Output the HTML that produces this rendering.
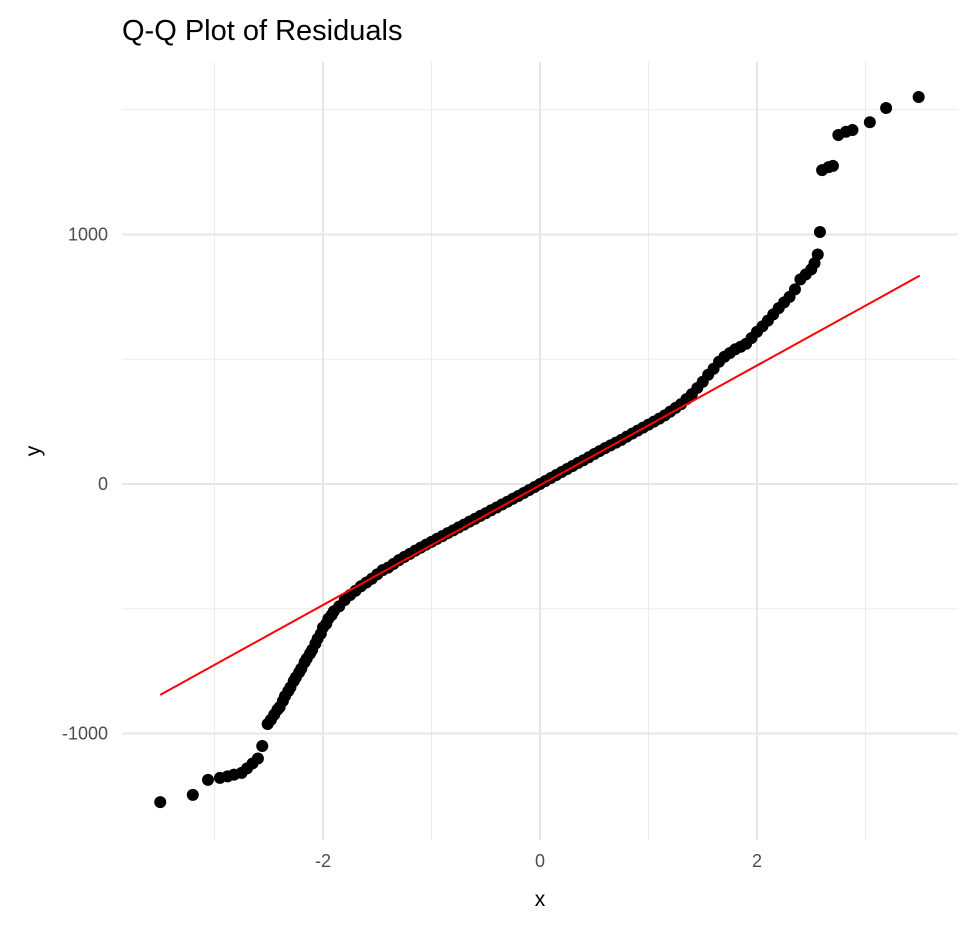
<!DOCTYPE html>
<html><head><meta charset="utf-8"><style>
body{margin:0;background:#fff;}
svg text{font-family:"Liberation Sans",Arial,sans-serif;}
</style></head><body>
<svg id="chart" width="972" height="922">
<text x="122" y="40" font-size="29" fill="#000">Q-Q Plot of Residuals</text>
<g id="grid"></g><g id="refline"></g><g id="pts"></g><g id="axes"></g>
<text x="540" y="906" font-size="21" text-anchor="middle" fill="#000">x</text>
<text x="40" y="451" font-size="21" text-anchor="middle" fill="#000" transform="rotate(-90 40 451)">y</text>
</svg>
<script>
const xVals=[-3.50,-3.20,-3.06,-2.95,-2.88,-2.82,-2.75,-2.70,-2.65,-2.60,-2.56,-2.51,-2.48,-2.45,-2.42,-2.40,-2.37,-2.35,-2.32,-2.30,-2.27,-2.25,-2.22,-2.20,-2.17,-2.15,-2.12,-2.10,-2.07,-2.05,-2.02,-2.00,-1.97,-1.95,-1.92,-1.90,-1.85,-1.80,-1.75,-1.70,-1.65,-1.60,-1.55,-1.50,-1.45,-1.40,
-1.35,-1.30,-1.25,-1.20,-1.15,-1.10,-1.05,-1.00,-0.95,-0.90,-0.85,-0.80,-0.75,-0.70,-0.65,-0.60,-0.55,-0.50,-0.45,-0.40,-0.35,-0.30,-0.25,-0.20,-0.15,-0.10,-0.05,0,0.05,0.10,0.15,0.20,0.25,0.30,0.35,0.40,0.45,0.50,0.55,0.60,0.65,0.70,0.75,0.80,0.85,0.90,0.95,1.00,1.05,1.10,1.15,1.20,1.25,1.30,
1.35,1.4,1.45,1.5,1.55,1.6,1.65,1.7,1.75,1.8,1.85,1.9,1.95,2.0,2.05,2.1,2.15,2.2,2.25,2.3,2.35,2.4,2.45,2.5,2.53,2.56,2.58,2.60,2.66,2.70,2.75,2.82,2.88,3.04,3.19,3.49];
const yVals=[-1275,-1246,-1186,-1178,-1172,-1165,-1158,-1140,-1120,-1100,-1050,-962,-945,-925,-905,-895,-870,-850,-830,-815,-790,-775,-755,-740,-715,-700,-680,-665,-640,-620,-600,-575,-560,-540,-525,-510,-490,-465,-445,-428,-410,-395,-380,-362,-345,-335,
-320,-305,-292,-280,-267,-255,-243,-232,-220,-209,-197,-186,-174,-163,-151,-140,-128,-117,-105,-94,-82,-71,-59,-48,-36,-24,-12,0,12,24,36,48,60,72,84,95,107,120,132,144,155,166,177,190,202,214,226,238,250,262,275,290,305,320,
340,360,385,410,438,462,490,510,525,540,550,562,585,610,632,655,680,705,728,750,780,820,840,860,885,920,1010,1258,1270,1275,1399,1412,1419,1450,1507,1551];
const xTicks=[-2,0,2], yTicks=[-1000,0,1000];
const lineX=[-3.5,3.5], lineY=[-845,835];
const sx=v=>540+v*108.5, sy=v=>484-v*0.2495;
const NS="http://www.w3.org/2000/svg";
function mk(t,p,a){const e=document.createElementNS(NS,t);for(const k in a)e.setAttribute(k,a[k]);p.appendChild(e);return e;}
const g=document.getElementById('grid');
[-3,-1,1,3].forEach(v=>{const l=mk('line',g,{x1:sx(v),x2:sx(v),y1:62,y2:840,stroke:'#ebebeb','stroke-width':1});

});
[-500,500,1500].forEach(v=>{const l=mk('line',g,{x1:122,x2:958,y1:sy(v),y2:sy(v),stroke:'#ebebeb','stroke-width':1});

});
const ax=document.getElementById('axes');
xTicks.forEach(v=>{const l=mk('line',g,{x1:sx(v),x2:sx(v),y1:62,y2:840,stroke:'#e6e6e6','stroke-width':2});


const t=mk('text',ax,{x:sx(v),y:867,'font-size':18,fill:'#4d4d4d','text-anchor':'middle'});t.textContent=v;

});
yTicks.forEach(v=>{const l=mk('line',g,{x1:122,x2:958,y1:sy(v),y2:sy(v),stroke:'#e6e6e6','stroke-width':2});


const t=mk('text',ax,{x:108,y:sy(v)+6,'font-size':18,fill:'#4d4d4d','text-anchor':'end'});t.textContent=v;

});
const pg=document.getElementById('pts');
xVals.forEach((v,i)=>{const c=mk('circle',pg,{cx:sx(v),cy:sy(yVals[i]),r:6,fill:'#000'});

});
const rl=mk('line',document.getElementById('refline'),{x1:sx(lineX[0]),y1:sy(lineY[0]),x2:sx(lineX[1]),y2:sy(lineY[1]),stroke:'#ff0000','stroke-width':2});


document.getElementById('chart').appendChild(document.getElementById('refline'));
</script>
</body></html>
